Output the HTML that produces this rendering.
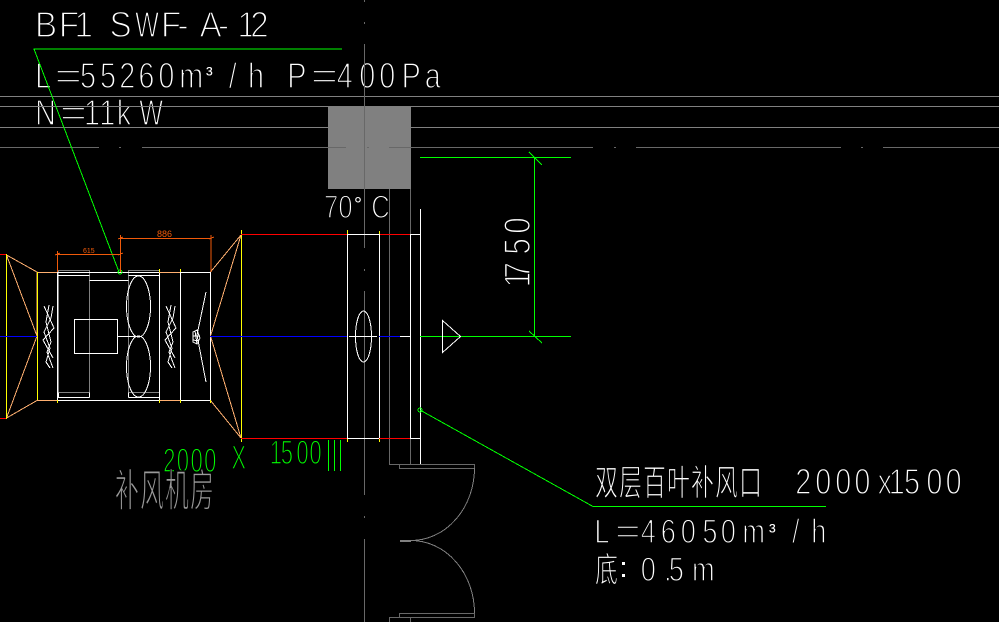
<!DOCTYPE html>
<html><head><meta charset="utf-8"><style>
html,body{margin:0;padding:0;background:#000;width:999px;height:622px;overflow:hidden}
svg{display:block}
text{font-family:"Liberation Sans","Noto Sans CJK SC",sans-serif;stroke:#000;stroke-width:1.4}
.w{fill:#fff}.g{fill:#0f0}.y{fill:#9a9a9a}
text.c{stroke-width:.75}
text.n{stroke:none}
.l line,.l polyline,.l ellipse,.l rect,.l path,.l circle{fill:none}
</style></head><body>
<svg width="999" height="622" viewBox="0 0 999 622" xmlns="http://www.w3.org/2000/svg">
<rect width="999" height="622" fill="#000"/>
<!-- text -->
<g transform="scale(.92,1)" class="w" font-size="36">
<text y="37" x="38 64 81 119 175 193 217 237 258 272">BF1SF-A-12</text>
</g>
<g transform="scale(.7,1)" class="w" font-size="36">
<text y="37" x="193">W</text>
<text y="125" x="199">W</text>
</g>
<g transform="scale(.8,1)" class="w" font-size="36">
<text y="88" x="44 100 125 149 173 198 224 286 310 359 421 449 474 502 531">L55260m/hP400Pa</text>
<text y="125" x="44 105 124 146">N11k</text>
<text y="494" x="994 1019 1044 1068 1097 1111 1130 1158 1182">2000x1500</text>
<text y="543" font-size="34" x="743 801 826 851 878 901 928 990 1014">L46050m/h</text>
<text y="581" font-size="34" x="801 830 836 865">0.5m</text>
<text y="218" font-size="32" x="405 423 464">70C</text>
</g>
<g transform="scale(1.3,1)" class="w" font-size="36">
<text y="88" x="42 239">==</text>
<text y="125" x="46">=</text>
<text y="543" font-size="34" x="473">=</text>
</g>
<g class="w" font-size="24">
<text class="n" y="81" x="206" font-size="20">³</text>
<text class="n" y="538" x="769" font-size="20">³</text>
<text class="n" y="211" x="354" font-size="20">°</text>
</g>
<g transform="translate(530,285) rotate(-90) scale(.8,1)" class="w" font-size="37"><text y="0" x="-3 8 38 64">1750</text></g>
<g transform="scale(.65,1)" class="g" font-size="34">
<text y="472" x="251 272 293 314">2000</text>
<text y="469" x="356">X</text>
<text y="464" x="415 432 456 476">1500</text>
</g>
<g transform="translate(0,495) scale(1,1.55)" class="w" font-size="23"><text class="c" y="0" x="595 619 643 667 691 715 739">双层百叶补风口</text></g>
<g transform="translate(0,582) scale(1,1.5)" class="w" font-size="23"><text class="c" y="0" x="595">底</text></g>
<rect x="622" y="562" width="3" height="3" fill="#fff"/><rect x="622" y="574" width="3" height="3" fill="#fff"/>
<g transform="translate(0,506) scale(1,1.85)" class="y" font-size="24"><text class="c" y="0" x="115 140 165 190">补风机房</text></g>

<g shape-rendering="crispEdges">
<!-- gray rect and building lines -->
<g class="l" stroke="#808080" stroke-width="1">
<rect x="328" y="106" width="83" height="83" style="fill:#808080" stroke="none"/>
<line x1="0" y1="96.5" x2="999" y2="96.5"/>
<line x1="0" y1="106.5" x2="999" y2="106.5"/>
<line x1="0" y1="127.5" x2="328" y2="127.5"/>
<line x1="411" y1="127.5" x2="999" y2="127.5"/>
</g>
<g class="l" stroke="#686868" stroke-width="1">
<path d="M0 147.5H99M119 147.5H121M142 147.5H346M367 147.5H369M389 147.5H593M614 147.5H616M636 147.5H841M861 147.5H863M883 147.5H999"/>
<path d="M364.5 0V2M364.5 22V24M364.5 44V248M364.5 269V271M364.5 291V495M364.5 516V518M364.5 539V622"/>
<path d="M389.5 189V464.5H474.5V468M399.5 464.5V468.5H474.5"/>
<path d="M410.5 189V234M410.5 438V464"/>
<path d="M389.5 622V617.5H474.5V613.5H399.5V617.5M410.5 617.5V622"/>
</g>
<g class="l" stroke="#808080" stroke-width="1">
<path d="M474.5 468A63.5 72.5 0 0 1 411 540.5M474.5 613A63.5 72.5 0 0 0 411 540.5"/>
<line x1="400" y1="541" x2="411" y2="541" stroke-width="2"/>
</g>

<!-- AHU -->
<g class="l" stroke="#808080" stroke-width="1">
<rect x="58.5" y="270.5" width="31" height="122"/>
<rect x="128.5" y="270.5" width="31" height="122"/>
</g>
<g class="l" stroke="#fff" stroke-width="1">
<path d="M57 272.5H159M180 272.5H211M57 400.5H159M180 400.5H211"/>
<path d="M57.5 272V400M159.5 272V400M180.5 272V400M210.5 272V400"/>
<path d="M58 275.5H89.5M128.5 275.5H159M89.5 280.5H128.5M58 397.5H89.5M128.5 397.5H159M58.5 392.5V397.5M89.5 392.5V397.5M128.5 392.5V397.5"/>
<rect x="74.5" y="319.5" width="43" height="34"/>
<line x1="117.5" y1="336.5" x2="137" y2="336.5"/>
<ellipse cx="138.5" cy="306.5" rx="12" ry="30.5"/>
<ellipse cx="138.5" cy="366.5" rx="12" ry="30.5"/>
<path d="M49 305L46 322L51 342L47 352L53 368M53 306L51 318L44 332L50 348L46 362L50 368M44 306L54 328L43 340L53 358"/>
<path d="M171 305L168 322L173 342L169 352L175 368M175 306L173 318L166 332L172 348L168 362L172 368M166 306L176 328L165 340L175 358"/>
<path d="M206 292L197 335L206 382"/>
<path d="M197 330L193 332L193 342L197 344L200 338Z M195 331L197 344M193 336L200 336M193 340L199 341"/>
</g>
<g class="l" stroke="#ffb070" stroke-width="1">
<path d="M6.5 255L37 272L37 336L6.5 255M37 336L6.5 418L37 400.5"/>
<path d="M210.5 272L241 235L210.5 336L241 438L210.5 400.5"/>
<path d="M37 272.5H57M37 400.5H57M159 272.5H180M159 400.5H180"/>
</g>
<g class="l" stroke="#ff0" stroke-width="1">
<path d="M6.5 254V419M37.5 272V400M241.5 230V442"/>
<path d="M57.5 400V403M159.5 269V272M159.5 400V403M180.5 269V272M180.5 400V403M210.5 400V403"/>
<path d="M347.5 230V234M379.5 231V234M347.5 438V442M379.5 438V442"/>
</g>
<g class="l" stroke-width="1">
<path stroke="#f00" d="M0 254.5H6M0 418.5H6M241 234.5H347M379 234.5H410M241 438.5H347M379 438.5H410"/>
<path stroke="#fff" d="M347 234.5H379M410 234.5H420M347 438.5H379M410 438.5H420"/>
<path stroke="#fff" d="M347.5 234V438M379.5 234V438M410.5 234V438M420.5 209V464"/>
<path stroke="#00f" d="M0 336.5H37M210 336.5H347M379 336.5H400"/>
<path stroke="#fff" d="M349 336.5H377M400 336.5H410"/>
<path stroke="#0f0" d="M420 336.5H571M420 157.5H571M534.5 157V336"/>
<path stroke="#0f0" d="M328.5 440V471M334.5 440V471M340.5 440V471"/>
</g>
<g class="l" stroke="#fff" stroke-width="1">
<ellipse cx="363.5" cy="336.5" rx="8" ry="25.5"/>
<path d="M442.5 320.5L460.5 336.5L442.5 352.5Z"/>
</g>
<g class="l" stroke="#0f0" stroke-width="1">
<path d="M529 152L542 165M529 331L542 343"/>
<polyline points="119,272 34,49 342,49"/>
<polyline points="420,410 593,506.5 826,506.5"/>
<circle cx="120" cy="272" r="2"/>
<circle cx="420" cy="410" r="2"/>
</g>
<g class="l" stroke="#f05a0a" stroke-width="1">
<path d="M57.5 254.5H120.5M57.5 254V272M120.5 238.5H211M120.5 238V272M211 238V272"/>
<path d="M57.5 251V257M120.5 235V241M120.5 251V257M211 235V241M55 255L60 253M118 255L123 253M118 239L123 237M209 239L214 237"/>
</g>
</g>
<text class="n" x="83" y="253" font-size="7" fill="#f05a0a">615</text>
<text class="n" x="157" y="237" font-size="9" fill="#f05a0a">886</text>
</svg>
</body></html>
